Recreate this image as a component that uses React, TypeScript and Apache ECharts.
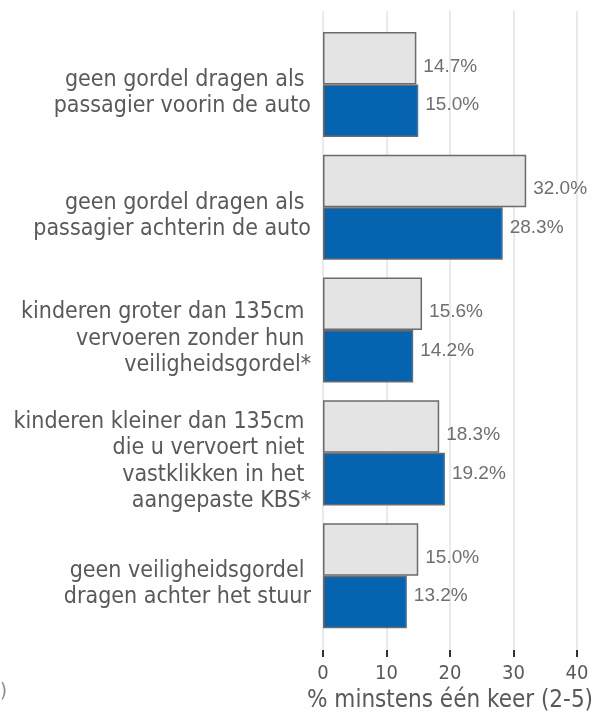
import React, { useEffect, useRef } from "react";
import * as echarts from "echarts";

const categories = [
  "geen gordel dragen als \npassagier voorin de auto",
  "geen gordel dragen als \npassagier achterin de auto",
  "kinderen groter dan 135cm \nvervoeren zonder hun \nveiligheidsgordel*",
  "kinderen kleiner dan 135cm \ndie u vervoert niet \nvastklikken in het \naangepaste KBS*",
  "geen veiligheidsgordel \ndragen achter het stuur",
];
const greyValues = [14.7, 32.0, 15.6, 18.3, 15.0];
const blueValues = [15.0, 28.3, 14.2, 19.2, 13.2];
const xTicks = [0, 10, 20, 30, 40];

const FONT = "DejaVu Sans Condensed";

export default function App() {
  const ref = useRef<HTMLDivElement>(null);
  useEffect(() => {
    if (!ref.current) return;
    const chart = echarts.init(ref.current, null, { renderer: "svg" });
    const labelStyle = {
      show: true,
      position: "right" as const,
      distance: 7,
      color: "#6f6f6f",
      fontFamily: "Liberation Sans",
      fontSize: 19,
      formatter: (p: any) => p.value.toFixed(1) + "%",
    };
    const xMin = xTicks[0];
    const xMax = xTicks[xTicks.length - 1];
    chart.setOption({
      animation: false,
      grid: [
        { left: 323, right: 31, top: 23, bottom: 74, containLabel: false },
        { left: 323, right: 31, top: 11, bottom: 66, containLabel: false },
      ],
      xAxis: [
        {
          type: "value",
          gridIndex: 0,
          min: xMin,
          max: xMax,
          interval: 10,
          offset: 13,
          name: "% minstens één keer (2-5)",
          nameLocation: "middle",
          nameGap: 36,
          nameTextStyle: { color: "#595959", fontSize: 24, fontFamily: FONT },
          axisLine: { show: false },
          axisTick: { show: true, length: 7, lineStyle: { color: "#333", width: 2 } },
          axisLabel: { color: "#595959", fontSize: 20, fontFamily: FONT, margin: 12 },
          splitLine: { show: false },
        },
        {
          type: "value",
          gridIndex: 1,
          min: xMin,
          max: xMax,
          interval: 10,
          axisLine: { show: false },
          axisTick: { show: false },
          axisLabel: { show: false },
          splitLine: { show: true, lineStyle: { color: "#e3e3e3", width: 1.5 } },
        },
      ],
      yAxis: [
        {
          type: "category",
          gridIndex: 0,
          data: categories,
          inverse: true,
          axisLine: { show: false },
          axisTick: { show: false },
          axisLabel: {
            color: "#595959",
            fontSize: 23,
            fontFamily: FONT,
            align: "right",
            margin: 12,
            formatter: (v: string) =>
              "{s|}\n" +
              v
                .split("\n")
                .map((l) => "{a|" + l + "}")
                .join("\n"),
            rich: {
              a: {
                color: "#595959",
                fontSize: 23,
                fontFamily: FONT,
                lineHeight: 26.3,
                align: "right",
              },
              s: { fontSize: 10, lineHeight: 13 },
            },
          },
        },
        {
          type: "value",
          gridIndex: 1,
          min: 0,
          max: 1,
          show: false,
          splitLine: { show: false },
        },
      ],
      series: [
        {
          type: "bar",
          xAxisIndex: 0,
          yAxisIndex: 0,
          data: greyValues,
          barGap: "0%",
          barCategoryGap: "14.5%",
          itemStyle: { color: "#e4e4e4", borderColor: "#6b6b6b", borderWidth: 1.5 },
          label: { ...labelStyle, offset: [0, 7] },
        },
        {
          type: "bar",
          xAxisIndex: 0,
          yAxisIndex: 0,
          data: blueValues,
          barGap: "0%",
          barCategoryGap: "14.5%",
          itemStyle: { color: "#0563b0", borderColor: "#6b6b6b", borderWidth: 1.5 },
          label: { ...labelStyle, offset: [0, -7] },
        },
      ],
      graphic: [
        {
          type: "text",
          left: 0,
          top: 680,
          style: { text: ")", fill: "#8a8a8a", fontSize: 20, fontFamily: FONT },
        },
      ],
    });
    return () => chart.dispose();
  }, []);
  return (
    <div
      ref={ref}
      style={{ position: "fixed", left: 0, top: 0, width: 608, height: 716 }}
    />
  );
}
